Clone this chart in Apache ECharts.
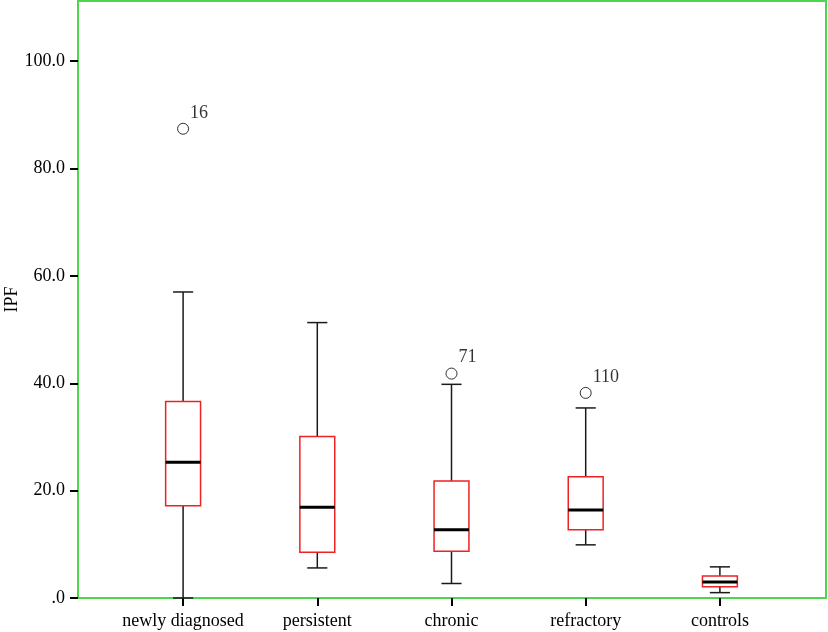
<!DOCTYPE html>
<html>
<head>
<meta charset="utf-8">
<script src="https://cdn.jsdelivr.net/npm/echarts@6/dist/echarts.min.js"></script>
<style>
html,body{margin:0;padding:0;background:#fff;}
#chart1{width:828px;height:632px;}
</style>
</head>
<body>
<div id="chart1"></div>
<script>
var categories = ['newly diagnosed', 'persistent', 'chronic', 'refractory', 'controls'];
// min, q1, median, q3, max
var boxMin = [0.0, 5.6, 2.7, 9.9, 1.0];
var boxQ1 = [17.2, 8.5, 8.7, 12.7, 2.1];
var boxMed = [25.3, 16.9, 12.7, 16.4, 3.0];
var boxQ3 = [36.6, 30.1, 21.8, 22.6, 4.1];
var boxMax = [57.0, 51.3, 39.8, 35.4, 5.8];
var outlierCat = [0, 2, 3];
var outlierVal = [87.4, 41.8, 38.2];
var outlierId = ['16', '71', '110'];
var yTicks = [0, 20, 40, 60, 80, 100];

var font = 'Liberation Serif';
var boxData = categories.map(function (c, i) {
	return [i, boxMin[i], boxQ1[i], boxMed[i], boxQ3[i], boxMax[i]];
});
var outData = outlierVal.map(function (v, i) {
	return {value: [outlierCat[i], v], name: outlierId[i]};
});

function renderBox(params, api) {
	var x = api.value(0);
	var pMin = api.coord([x, api.value(1)]);
	var pQ1 = api.coord([x, api.value(2)]);
	var pMed = api.coord([x, api.value(3)]);
	var pQ3 = api.coord([x, api.value(4)]);
	var pMax = api.coord([x, api.value(5)]);
	var band = api.size([1, 0])[0];
	var bw = band * 0.26, cw = band * 0.15;
	var cx = pMed[0];
	var black = {stroke: '#1a1a1a', lineWidth: 1.5};
	return {
		type: 'group',
		children: [
			{type: 'line', shape: {x1: cx, y1: pMin[1], x2: cx, y2: pQ1[1]}, style: black},
			{type: 'line', shape: {x1: cx, y1: pQ3[1], x2: cx, y2: pMax[1]}, style: black},
			{type: 'line', shape: {x1: cx - cw / 2, y1: pMin[1], x2: cx + cw / 2, y2: pMin[1]}, style: black},
			{type: 'line', shape: {x1: cx - cw / 2, y1: pMax[1], x2: cx + cw / 2, y2: pMax[1]}, style: black},
			{type: 'rect', shape: {x: cx - bw / 2, y: pQ3[1], width: bw, height: pQ1[1] - pQ3[1]},
				style: {fill: '#fff', stroke: '#ee2222', lineWidth: 1.5}},
			{type: 'line', shape: {x1: cx - bw / 2, y1: pMed[1], x2: cx + bw / 2, y2: pMed[1]},
				style: {stroke: '#000', lineWidth: 3}}
		]
	};
}

var option = {
	backgroundColor: '#fff',
	animation: false,
	grid: [
		{left: 78, right: 2, top: 1, bottom: 34, outerBoundsMode: 'none', containLabel: false,
			show: true, borderColor: '#4cd64c', borderWidth: 2, backgroundColor: 'transparent'},
		{left: 116, right: 41, top: 1, bottom: 34, outerBoundsMode: 'none', containLabel: false}
	],
	xAxis: [
		{gridIndex: 0, type: 'value', min: 0, max: 1, show: false},
		{
			gridIndex: 1,
			type: 'category',
			data: categories,
			axisLine: {show: false},
			axisTick: {show: true, alignWithLabel: true, length: 8, lineStyle: {color: '#000', width: 2}},
			axisLabel: {color: '#000', fontFamily: font, fontSize: 18, margin: 14, interval: 0},
			splitLine: {show: false}
		}
	],
	yAxis: [
		{
			gridIndex: 0,
			type: 'value',
			min: 0,
			max: 111.2,
			name: 'IPF',
			nameLocation: 'middle',
			nameGap: 57,
			nameMoveOverlap: false,
			nameTextStyle: {color: '#000', fontFamily: font, fontSize: 18},
			axisLine: {show: false},
			axisTick: {show: true, length: 8, customValues: yTicks, lineStyle: {color: '#000', width: 2}},
			axisLabel: {
				color: '#000', fontFamily: font, fontSize: 18, margin: 13, customValues: yTicks,
				formatter: function (v) { return v === 0 ? '.0' : v.toFixed(1); }
			},
			splitLine: {show: false}
		},
		{gridIndex: 1, type: 'value', min: 0, max: 111.2, show: false}
	],
	series: [
		{
			type: 'custom',
			xAxisIndex: 1,
			yAxisIndex: 1,
			renderItem: renderBox,
			encode: {x: 0, y: [1, 2, 3, 4, 5]},
			data: boxData
		},
		{
			type: 'scatter',
			xAxisIndex: 1,
			yAxisIndex: 1,
			symbol: 'circle',
			symbolSize: 11,
			itemStyle: {color: '#fff', borderColor: '#000', borderWidth: 1},
			label: {
				show: true, position: 'right', offset: [-4, -16], formatter: '{b}',
				color: '#000', fontFamily: font, fontSize: 18, textBorderWidth: 0
			},
			data: outData
		}
	]
};
var chart1 = echarts.init(document.getElementById('chart1'));
chart1.setOption(option);
</script>
</body>
</html>
